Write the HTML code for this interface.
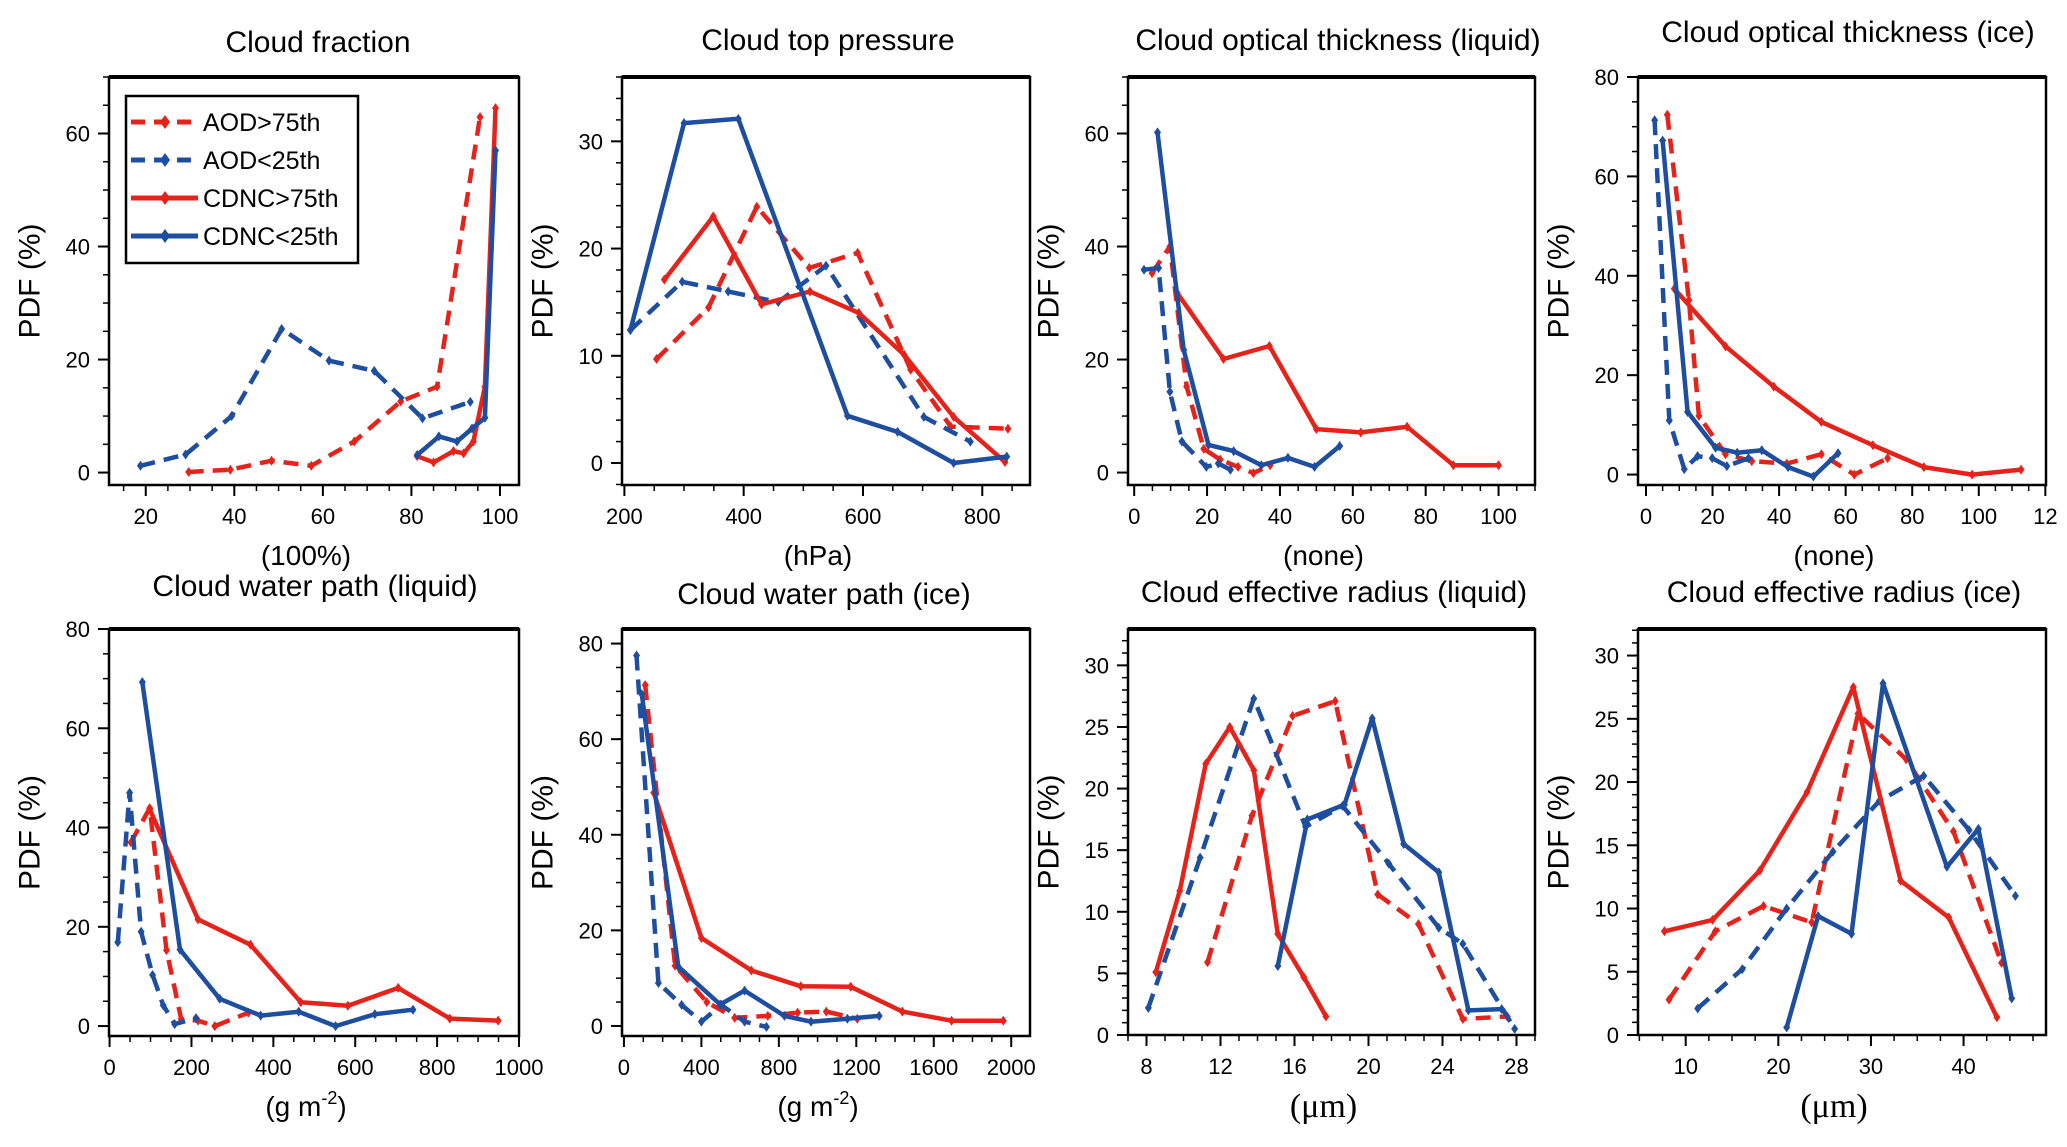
<!DOCTYPE html>
<html><head><meta charset="utf-8"><style>
html,body{margin:0;padding:0;background:#fff;}
svg{display:block;font-family:"Liberation Sans",sans-serif;}
</style></head><body>
<svg id="fig" width="2067" height="1147" viewBox="0 0 2067 1147" xmlns="http://www.w3.org/2000/svg"></svg>
<script>
// ---- data (x values, y values) per panel and series ----
const cfAod75X=[29.7,39.1,48.4,57.4,67.1,77.6,85.8,95.5];
const cfAod75Y=[0.1,0.5,2.1,1.2,5.5,12.6,15.2,62.9];
const cfAod25X=[18.8,29,39.4,50.7,61.4,71.6,82.5,93.3];
const cfAod25Y=[1.2,3.2,10,25.4,19.8,18,9.6,12.5];
const cfCd75X=[81.3,85,89.5,91.8,94,96.6,99];
const cfCd75Y=[2.9,1.8,3.8,3.4,5.5,15.2,64.5];
const cfCd25X=[81.3,86.2,90.3,93.7,96.6,99];
const cfCd25Y=[3.1,6.4,5.5,7.8,9.7,57];

const ctpAod75X=[254,341,422,510,591,680,747,843];
const ctpAod75Y=[9.7,14.5,23.9,18.2,19.6,8.7,3.4,3.2];
const ctpAod25X=[210,297,374,458,538,702,780];
const ctpAod25Y=[12.4,16.9,16,15,18.4,4.3,2];
const ctpCd75X=[267,349,430,511,593,669,752,838];
const ctpCd75Y=[17.1,23,14.8,16,14,10.1,4.3,0.1];
const ctpCd25X=[210,300,391,574,658,752,841];
const ctpCd25Y=[12.4,31.7,32.1,4.4,2.9,0,0.6];

const cotlAod75X=[4.9,9.8,14.4,19.1,23.6,28.5,32.7,37.3];
const cotlAod75Y=[35.3,40,15.2,4.2,2.3,1,-0.1,1.3];
const cotlAod25X=[2.7,6.7,9.8,13.1,19.8,23.1,26.4];
const cotlAod25Y=[35.9,36.2,14.3,5.5,1,1.6,0.5];
const cotlCd75X=[11.8,24.5,37.1,50,62.2,74.9,87.6,100];
const cotlCd75Y=[31.8,20.1,22.4,7.7,7.1,8.1,1.3,1.3];
const cotlCd25X=[6.4,13.6,20.4,27.3,34.9,42.2,49.5,56.4];
const cotlCd25Y=[60.2,21.7,4.9,3.8,1.3,2.6,1,4.7];

const cotiAod75X=[6.4,12.9,15.9,23.9,31.8,42.3,52.7,62.6,72.6];
const cotiAod75Y=[72.4,35.1,11.8,4.1,2.7,2.2,4.1,0,3.3];
const cotiAod25X=[2.6,7,11.5,15.5,19.9,24.3,30.8];
const cotiAod25Y=[71.3,10.9,1.1,3.7,3.3,1.7,3.3];
const cotiCd75X=[8.5,23.9,38.4,52.7,68.2,83.5,98,112.7];
const cotiCd75Y=[37.4,25.8,17.7,10.6,5.9,1.5,0,1];
const cotiCd25X=[5,12.5,20.9,27.4,34.8,42.7,50.3,57.7];
const cotiCd25Y=[67.2,12.6,5.4,4.4,4.9,1.5,-0.4,4.3];

const cwplAod75X=[52,98,139,175,216,257,339];
const cwplAod75Y=[37,43.9,15.3,1.4,1.1,0,2.7];
const cwplAod25X=[20,49,77,105,131,159,211];
const cwplAod25Y=[16.9,47,19,10.3,4.2,0.4,1.6];
const cwplCd75X=[98,216,344,467,582,705,831,949];
const cwplCd75Y=[43.7,21.5,16.4,4.8,4.1,7.7,1.5,1.1];
const cwplCd25X=[80,172,269,369,462,552,648,741];
const cwplCd25Y=[69.3,15.4,5.5,2.1,2.9,0,2.4,3.3];

const cwpiAod75X=[110,264,428,572,743,897,1045,1205];
const cwpiAod75Y=[71.3,12.6,5,1.7,2.1,2.8,3,1.5];
const cwpiAod25X=[65,178,298,400,503,623,736];
const cwpiAod25Y=[77.5,9,4.4,0.9,4.4,0.9,-0.2];
const cwpiCd75X=[154,400,658,914,1171,1438,1692,1959];
const cwpiCd75Y=[48.8,18.4,11.6,8.3,8.2,3,1.1,1.1];
const cwpiCd25X=[92,281,497,623,829,966,1154,1318];
const cwpiCd25Y=[69.4,12.4,4.5,7.4,2.1,0.9,1.5,2.1];

const crlAod75X=[11.3,13.7,15.9,18.2,20.5,22.7,25.1,27.5];
const crlAod75Y=[5.9,17.8,25.9,27.1,11.4,9,1.3,1.5];
const crlAod25X=[8.1,10.9,13.8,16.6,18.6,21.1,23.8,25.1,27.9];
const crlAod25Y=[2.2,14.4,27.3,16.9,18.6,13.9,8.7,7.4,0.5];
const crlCd75X=[8.5,9.8,11.2,12.5,13.8,15.1,16.5,17.7];
const crlCd75Y=[5.1,11.7,22,25,21.5,8.2,4.7,1.5];
const crlCd25X=[15.1,16.7,18.7,20.2,21.9,23.8,25.4,27.2];
const crlCd25Y=[5.6,17.5,18.7,25.7,15.5,13.2,2,2.1];

const criAod75X=[8.2,13.2,18.4,23.6,28.6,33.8,38.9,44.1];
const criAod75Y=[2.8,8.2,10.2,8.9,25.4,21.8,16.1,5.7];
const criAod25X=[11.3,16.1,20.9,25.9,30.9,35.7,40.6,45.6];
const criAod25Y=[2.1,5.2,10,14.5,18.5,20.5,16.2,11];
const criCd75X=[7.7,12.9,18,23.1,28.1,33.2,38.4,43.6];
const criCd75Y=[8.2,9.1,13,19.2,27.5,12.2,9.3,1.4];
const criCd25X=[20.9,24.3,27.9,31.3,38.2,41.6,45.2];
const criCd25Y=[0.6,9.4,8,27.8,13.3,16.3,2.9];

// tick labels
const cfXTicks=[20,40,60,80,100], cfYTicks=[0,20,40,60];
const ctpXTicks=[200,400,600,800], ctpYTicks=[0,10,20,30];
const cotlXTicks=[0,20,40,60,80,100], cotlYTicks=[0,20,40,60];
const cotiXTicks=[0,20,40,60,80,100,120], cotiYTicks=[0,20,40,60,80];
const cwplXTicks=[0,200,400,600,800,1000], cwplYTicks=[0,20,40,60,80];
const cwpiXTicks=[0,400,800,1200,1600,2000], cwpiYTicks=[0,20,40,60,80];
const crlXTicks=[8,12,16,20,24,28], crlYTicks=[0,5,10,15,20,25,30];
const criXTicks=[10,20,30,40], criYTicks=[0,5,10,15,20,25,30];

const RED='#e5231b', BLUE='#1e4ea0';
const NS='http://www.w3.org/2000/svg';
const svg=document.getElementById('fig');
function mk(tag,attrs,parent){const e=document.createElementNS(NS,tag);for(const k in attrs)e.setAttribute(k,attrs[k]);(parent||svg).appendChild(e);return e;}

const panels=[
 {key:'cloud-fraction',title:'Cloud fraction',tx:318,ty:52,xl:'(100%)',x0:109,x1:519,y0:77,y1:485,xmin:11.7,xmax:104.3,ymin:-2.2,ymax:70,xt:cfXTicks,yt:cfYTicks,xminor:5,yminor:5,
  s:[[cfAod75X,cfAod75Y,RED,1],[cfAod25X,cfAod25Y,BLUE,1],[cfCd75X,cfCd75Y,RED,0],[cfCd25X,cfCd25Y,BLUE,0]]},
 {key:'cloud-top-pressure',title:'Cloud top pressure',tx:828,ty:50,xl:'(hPa)',x0:622,x1:1030,y0:77,y1:485,xmin:196,xmax:880,ymin:-2.05,ymax:36,xt:ctpXTicks,yt:ctpYTicks,xminor:50,yminor:2,
  s:[[ctpAod75X,ctpAod75Y,RED,1],[ctpAod25X,ctpAod25Y,BLUE,1],[ctpCd75X,ctpCd75Y,RED,0],[ctpCd25X,ctpCd25Y,BLUE,0]]},
 {key:'cot-liquid',title:'Cloud optical thickness (liquid)',tx:1338,ty:50,xl:'(none)',x0:1128,x1:1535,y0:77,y1:485,xmin:-1.7,xmax:110,ymin:-2.2,ymax:70,xt:cotlXTicks,yt:cotlYTicks,xminor:5,yminor:5,
  s:[[cotlAod75X,cotlAod75Y,RED,1],[cotlAod25X,cotlAod25Y,BLUE,1],[cotlCd75X,cotlCd75Y,RED,0],[cotlCd25X,cotlCd25Y,BLUE,0]]},
 {key:'cot-ice',title:'Cloud optical thickness (ice)',tx:1848,ty:42,xl:'(none)',x0:1638,x1:2046,y0:77,y1:485,xmin:-2.4,xmax:120.2,ymin:-2.1,ymax:80,xt:cotiXTicks,yt:cotiYTicks,xminor:5,yminor:5,
  s:[[cotiAod75X,cotiAod75Y,RED,1],[cotiAod25X,cotiAod25Y,BLUE,1],[cotiCd75X,cotiCd75Y,RED,0],[cotiCd25X,cotiCd25Y,BLUE,0]]},
 {key:'cwp-liquid',title:'Cloud water path (liquid)',tx:315,ty:596,xl:'gm',x0:109,x1:519,y0:629,y1:1036,xmin:-1.4,xmax:1000,ymin:-2.0,ymax:80,xt:cwplXTicks,yt:cwplYTicks,xminor:50,yminor:5,
  s:[[cwplAod75X,cwplAod75Y,RED,1],[cwplAod25X,cwplAod25Y,BLUE,1],[cwplCd75X,cwplCd75Y,RED,0],[cwplCd25X,cwplCd25Y,BLUE,0]]},
 {key:'cwp-ice',title:'Cloud water path (ice)',tx:824,ty:604,xl:'gm',x0:622,x1:1030,y0:629,y1:1036,xmin:-10,xmax:2097,ymin:-2.1,ymax:83.05,xt:cwpiXTicks,yt:cwpiYTicks,xminor:100,yminor:5,
  s:[[cwpiAod75X,cwpiAod75Y,RED,1],[cwpiAod25X,cwpiAod25Y,BLUE,1],[cwpiCd75X,cwpiCd75Y,RED,0],[cwpiCd25X,cwpiCd25Y,BLUE,0]]},
 {key:'cer-liquid',title:'Cloud effective radius (liquid)',tx:1334,ty:602,xl:'um',x0:1128,x1:1535,y0:629,y1:1035,xmin:7,xmax:29,ymin:0,ymax:32.95,xt:crlXTicks,yt:crlYTicks,xminor:1,yminor:1,
  s:[[crlAod75X,crlAod75Y,RED,1],[crlAod25X,crlAod25Y,BLUE,1],[crlCd75X,crlCd75Y,RED,0],[crlCd25X,crlCd25Y,BLUE,0]]},
 {key:'cer-ice',title:'Cloud effective radius (ice)',tx:1844,ty:602,xl:'um',x0:1638,x1:2046,y0:629,y1:1035,xmin:4.85,xmax:48.9,ymin:0,ymax:32.1,xt:criXTicks,yt:criYTicks,xminor:2.5,yminor:1,
  s:[[criAod75X,criAod75Y,RED,1],[criAod25X,criAod25Y,BLUE,1],[criCd75X,criCd75Y,RED,0],[criCd25X,criCd25Y,BLUE,0]]}
];
const seriesNames=['aod-gt-75th','aod-lt-25th','cdnc-gt-75th','cdnc-lt-25th'];

panels.forEach(p=>{
  const g=mk('g',{});
  
  
  const sx=v=>p.x0+(v-p.xmin)/(p.xmax-p.xmin)*(p.x1-p.x0);
  const sy=v=>p.y1-(v-p.ymin)/(p.ymax-p.ymin)*(p.y1-p.y0);
  // title
  const t=mk('text',{x:p.tx,y:p.ty,'text-anchor':'middle','font-size':30,fill:'#000'},g);
  t.textContent=p.title;
  
  
  // y label
  const ylx=p.x0-79, yly=(p.y0+p.y1)/2;
  const yl=mk('text',{x:ylx,y:yly,'text-anchor':'middle','font-size':30,fill:'#000',transform:'rotate(-90 '+ylx+' '+yly+')','dominant-baseline':'central'},g);
  yl.textContent='PDF (%)';
  
  
  // x label
  const xlx=(p.x0+p.x1)/2-8, xly=p.y1+80;
  let xl;
  if(p.xl==='gm'){
    xl=mk('text',{x:xlx,y:xly,'text-anchor':'middle','font-size':28,fill:'#000'},g);
    xl.innerHTML='(g m<tspan dy="-12" font-size="18">-2</tspan><tspan dy="12">)</tspan>';
  } else if(p.xl==='um'){
    xl=mk('text',{x:xlx,y:xly+2,'text-anchor':'middle','font-size':34,fill:'#000','font-family':'"Liberation Serif",serif'},g);
    xl.textContent='(\u03bcm)';
  } else {
    xl=mk('text',{x:xlx,y:xly,'text-anchor':'middle','font-size':28,fill:'#000'},g);
    xl.textContent=p.xl;
  }
  
  
  // minor ticks
  for(let v=Math.ceil(p.ymin/p.yminor)*p.yminor; v<=p.ymax+1e-9; v+=p.yminor){
    mk('line',{x1:p.x0-6,x2:p.x0,y1:sy(v),y2:sy(v),stroke:'#000','stroke-width':1.5},g);
  }
  for(let v=Math.ceil(p.xmin/p.xminor)*p.xminor; v<=p.xmax+1e-9; v+=p.xminor){
    mk('line',{x1:sx(v),x2:sx(v),y1:p.y1,y2:p.y1+6,stroke:'#000','stroke-width':1.5},g);
  }
  p.yt.forEach(v=>{
    mk('line',{x1:p.x0-11,x2:p.x0,y1:sy(v),y2:sy(v),stroke:'#000','stroke-width':2},g);
    const l=mk('text',{x:p.x0-19,y:sy(v)+8,'text-anchor':'end','font-size':22,fill:'#000'},g);
    l.textContent=v;
    
    
  });
  p.xt.forEach(v=>{
    mk('line',{x1:sx(v),x2:sx(v),y1:p.y1,y2:p.y1+11,stroke:'#000','stroke-width':2},g);
    const l=mk('text',{x:sx(v),y:p.y1+39,'text-anchor':'middle','font-size':22,fill:'#000'},g);
    l.textContent=(p.key==='cot-ice'&&v===120)?'12':v;
    
    
  });
  // series
  const clipId='clip-'+p.key;
  const cp=mk('clipPath',{id:clipId},g);
  mk('rect',{x:p.x0,y:p.y0,width:p.x1-p.x0,height:p.y1-p.y0},cp);
  p.s.forEach((s,i)=>{
    const pts=s[0].map((x,j)=>sx(x).toFixed(1)+','+sy(s[1][j]).toFixed(1)).join(' ');
    const pl=mk('polyline',{points:pts,fill:'none',stroke:s[2],'stroke-width':4.5,'stroke-linejoin':'round','clip-path':'url(#'+clipId+')'},g);
    if(s[3]) pl.setAttribute('stroke-dasharray','15 9');
    
    
    s[0].forEach((x,j)=>{
      const cx=sx(x), cy=sy(s[1][j]);
      const m=mk('polygon',{points:`${cx},${cy-5} ${cx+3.5},${cy} ${cx},${cy+5} ${cx-3.5},${cy}`,fill:s[2]},g);
      
      
    });
  });
  // frame
  mk('rect',{x:p.x0,y:p.y0,width:p.x1-p.x0,height:p.y1-p.y0,fill:'none',stroke:'#000','stroke-width':2.5},g);
  mk('line',{x1:p.x0,x2:p.x1,y1:p.y0,y2:p.y0,stroke:'#000','stroke-width':4},g);
});

// legend
const lg=mk('g',{});


mk('rect',{x:126,y:96,width:232,height:167,fill:'#fff',stroke:'#000','stroke-width':2.5},lg);
const legLabels=['AOD>75th','AOD<25th','CDNC>75th','CDNC<25th'];
const legCols=[RED,BLUE,RED,BLUE], legDash=[1,1,0,0], legY=[122,160,198,236];
legLabels.forEach((lab,i)=>{
  const e=mk('g',{},lg);
  
  
  const ln=mk('line',{x1:131,x2:198,y1:legY[i],y2:legY[i],stroke:legCols[i],'stroke-width':5},e);
  if(legDash[i]) ln.setAttribute('stroke-dasharray','14 9');
  const cx=165, cy=legY[i];
  mk('polygon',{points:`${cx},${cy-7} ${cx+5},${cy} ${cx},${cy+7} ${cx-5},${cy}`,fill:legCols[i]},e);
  const t=mk('text',{x:203,y:legY[i]+9,'font-size':25,fill:'#000'},e);
  t.textContent=lab;
});
</script>
</body></html>
